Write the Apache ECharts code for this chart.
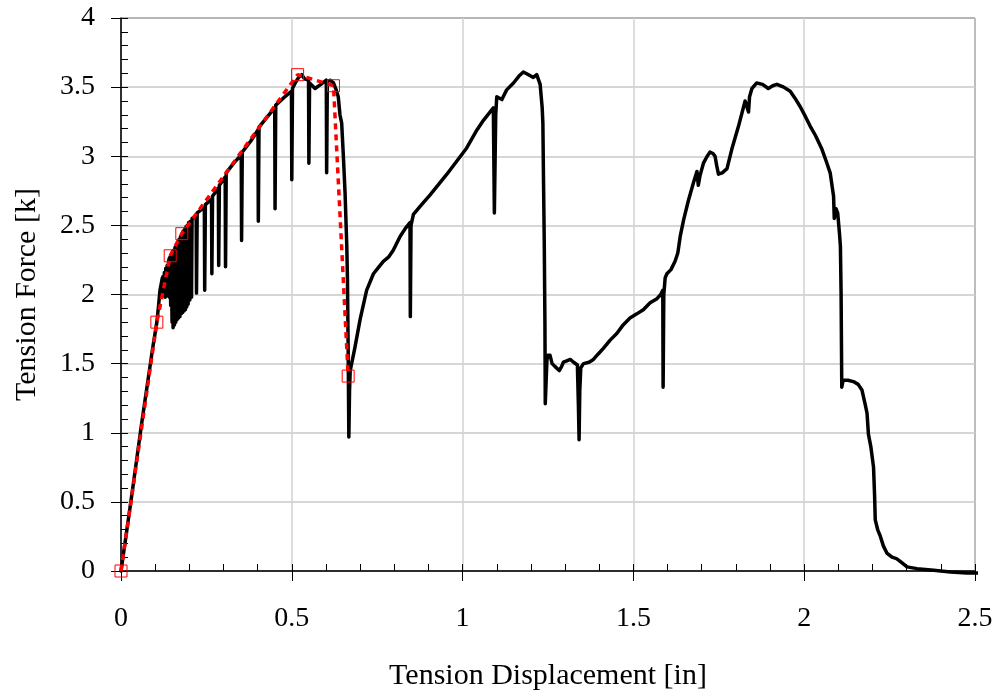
<!DOCTYPE html>
<html>
<head>
<meta charset="utf-8">
<script src="https://cdn.jsdelivr.net/npm/echarts@6/dist/echarts.min.js"></script>
<style>
  html, body { margin: 0; padding: 0; background: #fff; }
  #chart { width: 995px; height: 692px; }
</style>
</head>
<body>
<div id="chart"></div>
<script>
// Axis ticks
const xTicks = [0, 0.5, 1, 1.5, 2, 2.5];
const yTicks = [0, 0.5, 1, 1.5, 2, 2.5, 3, 3.5, 4];

// Measured tension force [k] vs displacement [in], as [in, k] pairs.
// First cycle: elastic rise, repeated unload/reload drops, fracture of first element.
const cycleOne = [
  [0, 0], [0.03, 0.52], [0.06, 1.06], [0.092, 1.6], [0.105, 1.8], [0.110, 1.92], [0.114, 2.03], [0.118, 2.08],
  [0.121, 2.12], [0.1215, 2.0], [0.123, 2.13],
  [0.125, 2.14], [0.1255, 1.99], [0.127, 2.16],
  [0.129, 2.17], [0.1295, 1.98], [0.131, 2.19],
  [0.133, 2.2], [0.1335, 1.99], [0.135, 2.21],
  [0.137, 2.22], [0.1375, 2.0], [0.139, 2.24],
  [0.141, 2.26], [0.1415, 1.98], [0.143, 2.27],
  [0.145, 2.28], [0.1455, 1.92], [0.147, 2.29],
  [0.149, 2.30], [0.1495, 1.80], [0.151, 2.31],
  [0.152, 2.31], [0.1525, 1.76], [0.154, 2.32],
  [0.156, 2.33], [0.1565, 1.78], [0.158, 2.34],
  [0.160, 2.35], [0.1605, 1.80], [0.162, 2.36],
  [0.164, 2.37], [0.1645, 1.82], [0.166, 2.38],
  [0.168, 2.39], [0.1685, 1.83], [0.170, 2.40],
  [0.172, 2.41], [0.1725, 1.84], [0.174, 2.42],
  [0.176, 2.43], [0.1765, 1.86], [0.178, 2.44],
  [0.180, 2.45], [0.1805, 1.87], [0.182, 2.46],
  [0.184, 2.46], [0.1845, 1.88], [0.186, 2.47],
  [0.188, 2.48], [0.1885, 1.89], [0.190, 2.49],
  [0.192, 2.49], [0.1925, 1.91], [0.194, 2.50],
  [0.196, 2.51], [0.1965, 1.93], [0.198, 2.52],
  [0.201, 2.52], [0.2015, 1.96], [0.203, 2.53],
  [0.206, 2.54], [0.2065, 1.98], [0.208, 2.55],
  [0.220, 2.57], [0.221, 2.01], [0.223, 2.59],
  [0.244, 2.63], [0.245, 2.03], [0.247, 2.65],
  [0.265, 2.69], [0.266, 2.15], [0.268, 2.71],
  [0.285, 2.77], [0.286, 2.21], [0.288, 2.79],
  [0.305, 2.85], [0.306, 2.20], [0.308, 2.88],
  [0.33, 2.95],
  [0.352, 3.01], [0.353, 2.39], [0.355, 3.03],
  [0.38, 3.11],
  [0.401, 3.19], [0.402, 2.53], [0.404, 3.21],
  [0.43, 3.29],
  [0.450, 3.35], [0.451, 2.62], [0.453, 3.37],
  [0.475, 3.42],
  [0.499, 3.47], [0.500, 2.83], [0.502, 3.49],
  [0.51, 3.53], [0.52, 3.57], [0.529, 3.59], [0.537, 3.56],
  [0.549, 3.55], [0.550, 2.95], [0.552, 3.53],
  [0.56, 3.51], [0.568, 3.49], [0.585, 3.52],
  [0.601, 3.55], [0.602, 2.88], [0.604, 3.54],
  [0.612, 3.55], [0.622, 3.53], [0.630, 3.48], [0.636, 3.43], [0.641, 3.30], [0.646, 3.24],
  [0.651, 3.0], [0.656, 2.73], [0.661, 2.35], [0.663, 2.1], [0.665, 1.6], [0.667, 0.97]
];

// Second cycle: reload to second peak, fracture.
const cycleTwo = [
  [0.669, 1.3], [0.671, 1.45], [0.685, 1.62], [0.700, 1.82], [0.719, 2.03], [0.739, 2.15],
  [0.755, 2.2], [0.768, 2.24], [0.783, 2.27], [0.797, 2.32], [0.817, 2.42], [0.833, 2.48],
  [0.846, 2.52], [0.847, 1.84], [0.849, 2.5], [0.856, 2.58], [0.88, 2.65], [0.905, 2.72],
  [0.954, 2.87], [1.012, 3.06], [1.042, 3.19], [1.061, 3.26], [1.090, 3.35], [1.093, 2.59],
  [1.097, 3.3], [1.100, 3.43], [1.115, 3.41], [1.129, 3.48], [1.149, 3.53], [1.165, 3.58],
  [1.178, 3.61], [1.193, 3.59], [1.207, 3.57], [1.217, 3.59], [1.227, 3.52], [1.233, 3.35],
  [1.235, 3.24], [1.237, 2.8], [1.239, 2.39], [1.241, 1.8], [1.242, 1.21]
];

// Third cycle: plateau, reload to third peak, fracture.
const cycleThree = [
  [1.247, 1.53], [1.25, 1.56], [1.256, 1.56], [1.262, 1.5], [1.27, 1.48], [1.283, 1.45],
  [1.29, 1.48], [1.295, 1.51], [1.305, 1.52], [1.315, 1.53], [1.325, 1.51], [1.336, 1.49],
  [1.339, 1.2], [1.341, 0.95], [1.343, 1.3], [1.346, 1.47], [1.354, 1.50], [1.37, 1.51],
  [1.383, 1.53], [1.397, 1.57], [1.412, 1.61], [1.432, 1.67], [1.452, 1.72], [1.47, 1.78],
  [1.49, 1.83], [1.51, 1.86], [1.529, 1.89], [1.549, 1.94], [1.569, 1.97], [1.58, 2.0],
  [1.586, 2.03], [1.587, 1.33], [1.589, 2.0], [1.593, 2.12], [1.598, 2.15], [1.61, 2.18],
  [1.622, 2.24], [1.630, 2.3], [1.637, 2.42], [1.647, 2.54], [1.661, 2.68], [1.676, 2.81],
  [1.686, 2.89], [1.690, 2.79], [1.695, 2.86], [1.705, 2.95], [1.716, 3.0], [1.724, 3.03],
  [1.733, 3.02], [1.739, 3.0], [1.744, 2.93], [1.749, 2.87], [1.76, 2.88], [1.774, 2.91],
  [1.788, 3.05], [1.808, 3.22], [1.827, 3.40], [1.837, 3.32], [1.84, 3.43], [1.847, 3.49],
  [1.861, 3.53], [1.878, 3.52], [1.895, 3.49], [1.908, 3.51], [1.920, 3.52], [1.94, 3.5],
  [1.959, 3.47], [1.973, 3.42], [1.988, 3.36], [2.003, 3.29], [2.017, 3.22], [2.033, 3.15],
  [2.052, 3.05], [2.065, 2.96], [2.076, 2.88], [2.086, 2.71], [2.088, 2.55], [2.093, 2.62],
  [2.098, 2.59], [2.103, 2.45], [2.106, 2.35], [2.108, 2.01], [2.110, 1.33]
];

// Residual plateau and final loss of capacity.
const tailOff = [
  [2.114, 1.38], [2.128, 1.38], [2.144, 1.37], [2.158, 1.35], [2.169, 1.31], [2.179, 1.2],
  [2.184, 1.14], [2.188, 0.99], [2.195, 0.9], [2.203, 0.75], [2.206, 0.55], [2.208, 0.37],
  [2.215, 0.3], [2.223, 0.25], [2.232, 0.18], [2.242, 0.13], [2.257, 0.10], [2.27, 0.09],
  [2.281, 0.07], [2.301, 0.03], [2.33, 0.017], [2.379, 0.005], [2.428, -0.007],
  [2.476, -0.015], [2.52, -0.015]
];

// Backbone (envelope) model points
const envelopeDisp = [0, 0.105, 0.144, 0.178, 0.517, 0.622, 0.665];
const envelopeForce = [0, 1.80, 2.28, 2.44, 3.59, 3.51, 1.41];

const measured = cycleOne.concat(cycleTwo, cycleThree, tailOff);
const envelope = envelopeDisp.map((d, i) => [d, envelopeForce[i]]);

const serif = "'Liberation Serif', 'Times New Roman', serif";

function tickFormatter(ticks) {
  return v => {
    const r = +v.toFixed(2);
    return ticks.includes(r) ? String(r) : '';
  };
}

const chart = echarts.init(document.getElementById('chart'), null, { renderer: 'canvas' });

chart.setOption({
  animation: false,
  backgroundColor: '#fff',
  grid: {
    left: 121, right: 20, top: 18, bottom: 121,
    show: true, borderColor: '#000', borderWidth: 1, backgroundColor: 'transparent',
    containLabel: false, outerBoundsMode: 'none'
  },
  xAxis: [
    {
      type: 'value', min: 0, max: 2.5, interval: 0.5, position: 'bottom',
      name: 'Tension Displacement [in]', nameLocation: 'middle', nameGap: 90,
      nameMoveOverlap: false,
      nameTextStyle: { fontFamily: serif, fontSize: 30, color: '#000' },
      axisLine: { show: true, onZero: false, lineStyle: { color: '#000', width: 1.5 } },
      axisTick: { show: true, inside: false, length: 10, lineStyle: { color: '#000', width: 1 } },
      splitLine: { show: true, lineStyle: { color: '#d2d2d2', width: 1.5 } },
      axisLabel: { fontFamily: serif, fontSize: 28, color: '#000', margin: 34, formatter: tickFormatter(xTicks) }
    },
    {
      type: 'value', min: 0, max: 2.5, interval: 0.5, position: 'bottom',
      axisLine: { show: false, onZero: false },
      axisLabel: { show: false },
      splitLine: { show: false },
      axisTick: { show: true, inside: true, length: 7, lineStyle: { color: '#000', width: 1 } },
      minorTick: { show: true, splitNumber: 5, length: 7, lineStyle: { color: '#000', width: 1 } }
    }
  ],
  yAxis: [
    {
      type: 'value', min: 0, max: 4, interval: 0.5, position: 'left',
      name: 'Tension Force [k]', nameLocation: 'middle', nameGap: 79,
      nameMoveOverlap: false,
      nameTextStyle: { fontFamily: serif, fontSize: 30, color: '#000' },
      axisLine: { show: true, onZero: false, lineStyle: { color: '#000', width: 1.5 } },
      axisTick: { show: true, inside: false, length: 10, lineStyle: { color: '#000', width: 1 } },
      splitLine: { show: true, lineStyle: { color: '#c8c8c8', width: 1.5 } },
      axisLabel: { fontFamily: serif, fontSize: 28, color: '#000', margin: 26, formatter: tickFormatter(yTicks) }
    },
    {
      type: 'value', min: 0, max: 4, interval: 0.5, position: 'left',
      axisLine: { show: false, onZero: false },
      axisLabel: { show: false },
      splitLine: { show: false },
      axisTick: { show: true, inside: true, length: 7, lineStyle: { color: '#000', width: 1 } },
      minorTick: { show: true, splitNumber: 5, length: 7, lineStyle: { color: '#000', width: 1 } }
    }
  ],
  series: [
    {
      name: 'Measured',
      type: 'line',
      xAxisIndex: 0, yAxisIndex: 0,
      data: measured,
      showSymbol: false, symbol: 'none',
      clip: false,
      lineStyle: { color: '#000', width: 3.5, join: 'round', cap: 'round' },
      z: 3
    },
    {
      name: 'Envelope',
      type: 'line',
      xAxisIndex: 0, yAxisIndex: 0,
      data: envelope,
      symbol: 'rect', symbolSize: 12, showSymbol: true,
      clip: false,
      itemStyle: { color: 'rgba(0,0,0,0)', borderColor: '#ff0000', borderWidth: 1 },
      lineStyle: { color: '#ff0000', width: 3.5, type: [6, 5] },
      z: 4
    }
  ]
});
</script>
</body>
</html>
